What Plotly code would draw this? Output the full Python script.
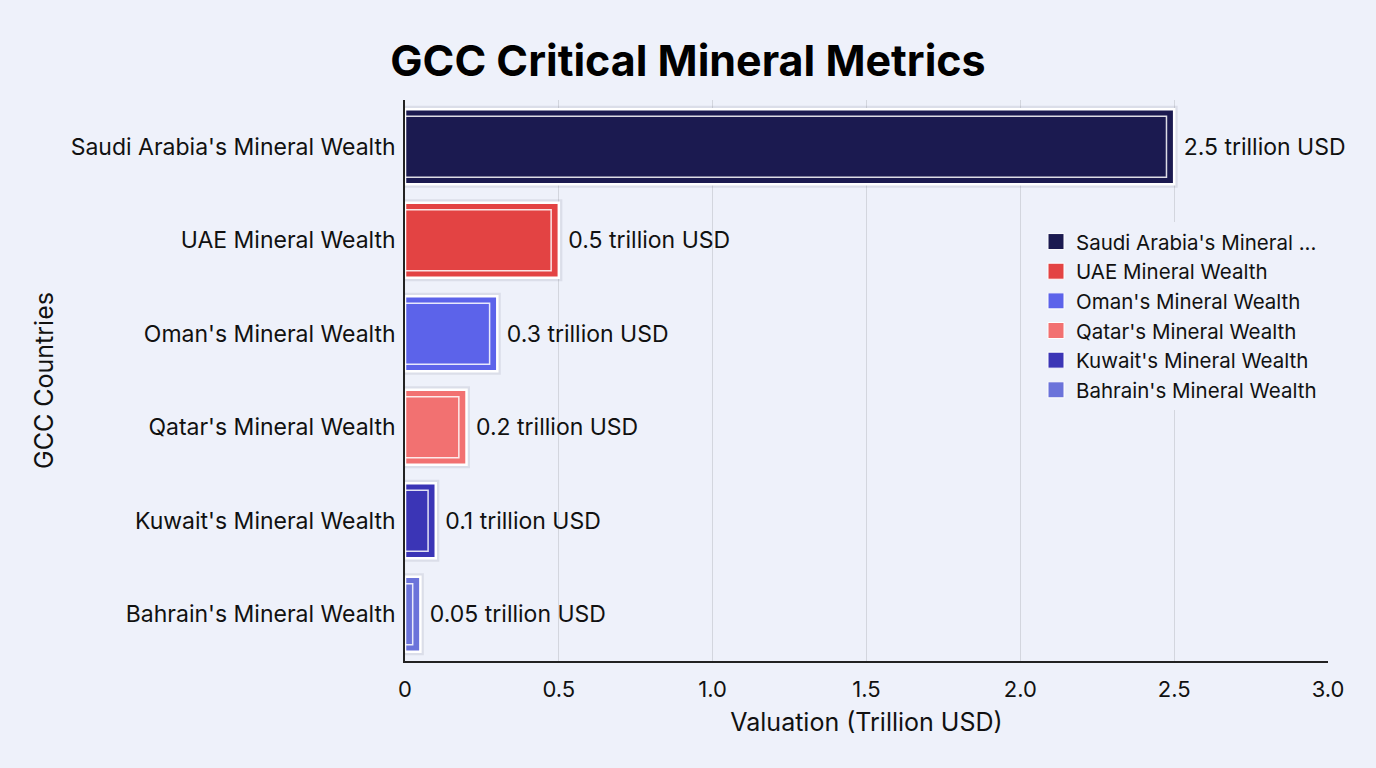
import plotly.graph_objects as go

countries = ["Saudi Arabia's Mineral Wealth", "UAE Mineral Wealth", "Oman's Mineral Wealth",
             "Qatar's Mineral Wealth", "Kuwait's Mineral Wealth", "Bahrain's Mineral Wealth"]
legend_names = ["Saudi Arabia's Mineral ...", "UAE Mineral Wealth", "Oman's Mineral Wealth",
                "Qatar's Mineral Wealth", "Kuwait's Mineral Wealth", "Bahrain's Mineral Wealth"]
values = [2.5, 0.5, 0.3, 0.2, 0.1, 0.05]
labels = ["2.5 trillion USD", "0.5 trillion USD", "0.3 trillion USD",
          "0.2 trillion USD", "0.1 trillion USD", "0.05 trillion USD"]
colors = ["#1b1a50", "#e34343", "#5c63ea", "#f27171", "#3b35b6", "#6b73da"]

INSET = 0.025  # decorative inner outline inset (data units)
BG = "#eef1fa"
FONT = "Inter, Roboto, sans-serif"

fig = go.Figure()
# soft shadow
for c, v in zip(countries, values):
    fig.add_trace(go.Bar(y=[c], x=[v], orientation="h", width=0.8,
                         marker=dict(color="rgba(0,0,0,0)", line=dict(color="rgba(60,60,90,0.10)", width=7)),
                         showlegend=False, hoverinfo="skip"))
# main bars
for c, v, t, col in zip(countries, values, labels, colors):
    fig.add_trace(go.Bar(y=[c], x=[v], orientation="h", width=0.8, showlegend=False,
                         marker=dict(color=col, line=dict(color="white", width=2.5)),
                         text=[" " + t], textposition="outside", cliponaxis=False,
                         textfont=dict(size=23, color="#111111", family=FONT)))
# inner white outline
for c, v in zip(countries, values):
    fig.add_trace(go.Bar(y=[c], x=[v - INSET], orientation="h", width=0.65,
                         marker=dict(color="rgba(0,0,0,0)", line=dict(color="rgba(255,255,255,0.85)", width=1.5)),
                         showlegend=False, hoverinfo="skip"))
# legend entries
for n, col in zip(legend_names, colors):
    fig.add_trace(go.Scatter(x=[None], y=[None], mode="markers", name=n,
                             marker=dict(symbol="square", size=20, color=col,
                                         line=dict(color="white", width=1))))

fig.update_layout(
    width=1376, height=768,
    barmode="overlay",
    paper_bgcolor=BG, plot_bgcolor=BG,
    font=dict(family=FONT, color="#111111"),
    margin=dict(l=405, r=48, t=100, b=107),
    title=dict(text="<b>GCC Critical Mineral Metrics</b>", x=0.5, xref="container", xanchor="center",
               y=0.92, yanchor="middle", font=dict(size=43, color="#000000", family=FONT)),
    xaxis=dict(range=[0, 3.0], tickvals=[0, 0.5, 1.0, 1.5, 2.0, 2.5, 3.0],
               ticktext=["0", "0.5", "1.0", "1.5", "2.0", "2.5", "3.0"],
               showgrid=True, gridcolor="#d3d6de", gridwidth=1, zeroline=False,
               showline=True, linecolor="#222222", linewidth=1.5,
               tickfont=dict(size=22, family=FONT), ticks="outside", ticklen=8, tickcolor=BG,
               title=dict(text="Valuation (Trillion USD)", font=dict(size=25, family=FONT), standoff=12)),
    yaxis=dict(categoryorder="array", categoryarray=countries, autorange="reversed",
               showgrid=False, showline=True, linecolor="#222222", linewidth=1.5,
               tickfont=dict(size=23, family=FONT), ticks="outside", ticklen=3, tickcolor=BG,
               title=dict(text="GCC Countries", font=dict(size=25, family=FONT), standoff=10)),
    legend=dict(x=0.9935, xanchor="right", y=0.783, yanchor="top", bgcolor=BG,
                font=dict(size=20.5, family=FONT), itemsizing="trace", tracegroupgap=0),
)

fig.write_html("out.html")
